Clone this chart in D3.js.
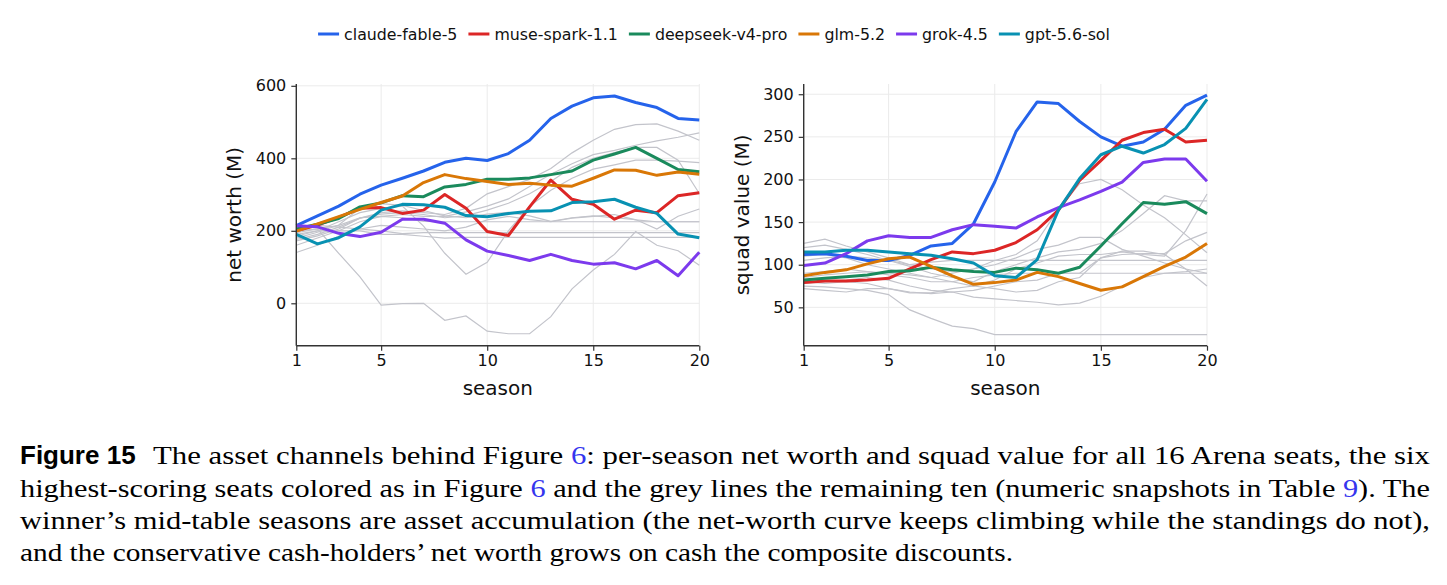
<!DOCTYPE html>
<html>
<head>
<meta charset="utf-8">
<script src="https://cdn.jsdelivr.net/npm/d3@7/dist/d3.min.js"></script>
<style>
  body { margin: 0; background: #fff; }
  svg { display: block; }
</style>
</head>
<body>
<svg id="fig"></svg>
<script>
// ---- data ----
const seasons = [1, 2, 3, 4, 5, 6, 7, 8, 9, 10, 11, 12, 13, 14, 15, 16, 17, 18, 19, 20];
const models = ['claude-fable-5', 'muse-spark-1.1', 'deepseek-v4-pro', 'glm-5.2', 'grok-4.5', 'gpt-5.6-sol'];
const colors = ['#2563eb', '#dc2626', '#1a8a5c', '#d97706', '#7c3aed', '#0891b2'];

// net worth (M)
const nwClaude = [214, 241, 268, 301, 326, 345, 365, 389, 400, 394, 413, 450, 510, 544, 567, 572, 554, 540, 510, 506];
const nwMuse = [200, 216, 237, 262, 264, 248, 257, 300, 262, 198, 187, 266, 340, 287, 273, 232, 257, 250, 297, 305];
const nwDeepseek = [205, 218, 234, 266, 277, 297, 294, 321, 328, 342, 342, 346, 355, 365, 395, 412, 430, 400, 369, 363];
const nwGlm = [199, 219, 239, 259, 278, 296, 333, 355, 344, 336, 328, 331, 326, 323, 345, 368, 367, 353, 362, 356];
const nwGrok = [214, 211, 193, 184, 196, 232, 232, 221, 175, 144, 132, 118, 135, 118, 108, 112, 95, 118, 76, 141];
const nwGpt = [190, 164, 181, 211, 257, 273, 272, 265, 242, 239, 248, 254, 255, 278, 280, 287, 265, 248, 191, 181];
const nwOthers = [
  [200, 205, 138, 73, -5, -1, 0, -47, -35, -77, -84, -84, -37, 40, 92, 135, 198, 160, 145, 105],
  [185, 200, 225, 250, 262, 268, 213, 138, 80, 113, 200, 268, 312, 345, 370, 382, 395, 395, 392, 388],
  [172, 186, 205, 235, 250, 255, 250, 245, 262, 302, 322, 342, 372, 415, 450, 480, 493, 495, 475, 450],
  [160, 180, 200, 225, 240, 245, 240, 240, 252, 268, 288, 322, 356, 385, 410, 422, 436, 448, 458, 470],
  [176, 190, 210, 235, 246, 250, 245, 236, 242, 257, 276, 302, 336, 375, 400, 416, 430, 430, 395, 303],
  [195, 205, 215, 236, 240, 236, 226, 225, 225, 225, 225, 225, 225, 225, 225, 225, 225, 225, 225, 225],
  [180, 196, 216, 262, 275, 270, 256, 241, 236, 246, 251, 241, 226, 236, 241, 236, 231, 205, 240, 260],
  [210, 215, 210, 205, 200, 192, 195, 195, 195, 195, 195, 195, 195, 195, 195, 195, 195, 195, 195, 195],
  [190, 200, 200, 200, 190, 190, 185, 180, 182, 182, 182, 182, 182, 182, 182, 182, 182, 182, 182, 182],
  [140, 160, 185, 205, 215, 210, 205, 200, 210, 230, 240, 231, 225, 235, 240, 245, 230, 225, 225, 225]
];

// squad value (M)
const svClaude = [112, 113, 110, 105, 105, 111, 122, 125, 148, 197, 256, 291, 289, 268, 250, 239, 244, 259, 287, 299];
const svMuse = [79, 81, 81, 82, 84, 95, 106, 115, 113, 117, 126, 141, 164, 199, 222, 246, 255, 259, 244, 246];
const svDeepseek = [82, 84, 86, 88, 92, 93, 97, 94, 92, 91, 96, 94, 90, 97, 122, 148, 173, 171, 174, 160];
const svGlm = [87, 91, 94, 101, 107, 109, 98, 87, 77, 79, 82, 91, 86, 78, 70, 74, 86, 98, 109, 125];
const svGrok = [99, 102, 113, 128, 134, 132, 132, 141, 147, 145, 143, 156, 167, 176, 186, 197, 220, 224, 224, 198];
const svGpt = [115, 115, 117, 117, 115, 113, 111, 107, 102, 87, 85, 106, 164, 201, 229, 239, 231, 241, 260, 294];
const svOthers = [
  [75, 74, 72, 70, 65, 47, 37, 28, 25, 18, 18, 18, 18, 18, 18, 18, 18, 18, 18, 18],
  [125, 130, 122, 115, 108, 100, 95, 92, 95, 105, 112, 128, 165, 195, 200, 188, 170, 155, 135, 114],
  [120, 123, 118, 112, 105, 98, 90, 85, 80, 92, 100, 108, 115, 118, 125, 140, 160, 181, 175, 175],
  [110, 112, 108, 100, 95, 90, 85, 80, 75, 82, 95, 102, 110, 112, 112, 115, 112, 110, 140, 183],
  [105, 108, 110, 108, 105, 100, 103, 105, 105, 105, 105, 105, 105, 105, 105, 105, 105, 105, 105, 105],
  [90, 92, 95, 92, 88, 85, 80, 80, 85, 88, 90, 90, 90, 90, 90, 90, 90, 90, 90, 90],
  [85, 88, 90, 92, 90, 88, 85, 90, 95, 100, 108, 118, 123, 132, 132, 118, 110, 102, 95, 90],
  [72, 70, 68, 72, 72, 68, 66, 68, 62, 60, 58, 56, 53, 55, 63, 75, 85, 90, 92, 95],
  [80, 78, 80, 78, 72, 67, 67, 72, 75, 72, 68, 70, 80, 85, 108, 116, 116, 112, 95, 75],
  [78, 80, 82, 85, 82, 75, 70, 68, 70, 75, 80, 82, 90, 90, 108, 112, 113, 113, 128, 138]
];

const xTicks = [1, 5, 10, 15, 20];
const nwTicks = [0, 200, 400, 600];
const svTicks = [50, 100, 150, 200, 250, 300];

// ---- drawing ----
const W = 1447, H = 585;
const FONT = '"DejaVu Sans", sans-serif';

const svg = d3.select('#fig').attr('width', W).attr('height', H)
    .style('background', '#fff');

const Panel = {
    create(left, right, top, bottom, yDomain, yTicks, yLabel, focus, others) {
        const x = d3.scaleLinear().domain([1, 20]).range([left, right]);
        const y = d3.scaleLinear().domain(yDomain).range([bottom, top]);
        const g = svg.append('g');

        // grid
        g.append('g').selectAll('line').data(xTicks).join('line')
            .attr('x1', d => x(d)).attr('x2', d => x(d))
            .attr('y1', top).attr('y2', bottom)
            .attr('stroke', '#ebebeb').attr('stroke-width', 1);
        g.append('g').selectAll('line').data(yTicks).join('line')
            .attr('x1', left).attr('x2', right)
            .attr('y1', d => y(d)).attr('y2', d => y(d))
            .attr('stroke', '#ebebeb').attr('stroke-width', 1);

        const line = d3.line().x((d, i) => x(seasons[i])).y(d => y(d));

        g.append('g').selectAll('path').data(others).join('path')
            .attr('d', line)
            .attr('fill', 'none')
            .attr('stroke', '#c3c4cb')
            .attr('stroke-width', 1.2);

        g.append('g').selectAll('path').data(focus).join('path')
            .attr('d', line)
            .attr('fill', 'none')
            .attr('stroke', (d, i) => colors[i])
            .attr('stroke-width', 3)
            .attr('stroke-linejoin', 'round');

        // axes
        const xAxis = d3.axisBottom(x).tickValues(xTicks).tickSize(5).tickPadding(4);
        const yAxis = d3.axisLeft(y).tickValues(yTicks).tickSize(5).tickPadding(5);

        const xg = g.append('g').attr('transform', 'translate(0,' + bottom + ')').call(xAxis);
        const yg = g.append('g').attr('transform', 'translate(' + left + ',0)').call(yAxis);
        [xg, yg].forEach(a => {
            a.select('.domain').attr('stroke', '#333').attr('stroke-width', 1.4);
            a.selectAll('.tick line').attr('stroke', '#333').attr('stroke-width', 1.2);
            a.selectAll('.tick text').attr('font-family', FONT).attr('font-size', 16).attr('fill', '#111');
        });
        // only left and bottom spines
        yg.select('.domain').attr('d', 'M0,' + bottom + 'V' + top);
        xg.select('.domain').attr('d', 'M' + left + ',0H' + right);

        g.append('text')
            .attr('x', (left + right) / 2).attr('y', bottom + 49)
            .attr('text-anchor', 'middle')
            .attr('font-family', FONT).attr('font-size', 20).attr('fill', '#111')
            .text('season');

        g.append('text')
            .attr('transform', 'translate(' + (left - 55) + ',' + ((top + bottom) / 2) + ') rotate(-90)')
            .attr('text-anchor', 'middle')
            .attr('font-family', FONT).attr('font-size', 20).attr('fill', '#111')
            .text(yLabel);
    }
};

Panel.create(296.3, 699.3, 84, 345.7, [-117, 605], nwTicks, 'net worth (M)',
    [nwClaude, nwMuse, nwDeepseek, nwGlm, nwGrok, nwGpt], nwOthers);
Panel.create(803.7, 1207, 84, 345.7, [5, 312], svTicks, 'squad value (M)',
    [svClaude, svMuse, svDeepseek, svGlm, svGrok, svGpt], svOthers);

// legend
const legend = svg.append('g');
let lx = 0;
models.forEach((m, i) => {
    const item = legend.append('g').attr('transform', 'translate(' + lx + ',0)');
    item.append('line').attr('x1', 0).attr('x2', 21).attr('y1', 0).attr('y2', 0)
        .attr('stroke', colors[i]).attr('stroke-width', 3);
    const t = item.append('text').attr('x', 26).attr('y', 6)
        .attr('font-family', FONT).attr('font-size', 15.8).attr('fill', '#111').text(m);
    lx += 26 + t.node().getComputedTextLength() + 11;
});
legend.attr('transform', 'translate(' + (714 - (lx - 11) / 2) + ',34)');

// caption
const cap = svg.append('g').attr('font-family', '"Liberation Serif", serif').attr('font-size', 26).attr('fill', '#000');
const LINK = '#3535ee';
cap.append('text').attr('x', 20).attr('y', 464)
    .attr('font-family', '"Liberation Sans", Arial, sans-serif').attr('font-weight', 'bold')
    .text('Figure 15');

function capLine(y, x0, width, parts) {
    const t = cap.append('text').attr('x', x0).attr('y', y)
        .attr('textLength', width).attr('lengthAdjust', 'spacingAndGlyphs');
    parts.forEach(p => {
        const s = t.append('tspan').text(p[0]);
        if (p[1]) s.attr('fill', LINK);
    });
}
capLine(464, 153, 1277, [['The asset channels behind Figure '], ['6', 1], [': per-season net worth and squad value for all 16 Arena seats, the six']]);
capLine(497, 20, 1410, [['highest-scoring seats colored as in Figure '], ['6', 1], [' and the grey lines the remaining ten (numeric snapshots in Table '], ['9', 1], ['). The']]);
capLine(529, 20, 1410, [['winner\u2019s mid-table seasons are asset accumulation (the net-worth curve keeps climbing while the standings do not),']]);
capLine(561, 20, 993, [['and the conservative cash-holders\u2019 net worth grows on cash the composite discounts.']]);
</script>
</body>
</html>
